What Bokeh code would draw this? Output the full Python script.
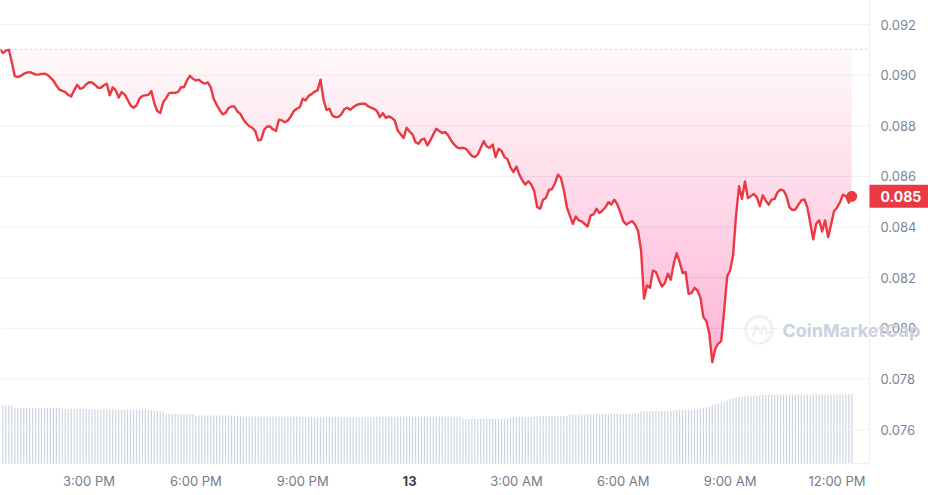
import numpy as np
from bokeh.plotting import figure
from bokeh.models import Range1d, Label, BoxAnnotation, PolyAnnotation
from bokeh.core.properties import value
from bokeh.embed import file_html
from bokeh.resources import INLINE

# ---- data: price every 5 minutes from 12:30 PM (12th) to 12:25 PM (13th) ----
prices = [
    0.09102, 0.09087, 0.09097, 0.09100, 0.09051, 0.08996, 0.08992, 0.08997, 0.09005, 0.09010, 0.09012, 0.09008,
    0.09002, 0.09002, 0.09005, 0.09006, 0.09001, 0.08990, 0.08978, 0.08959, 0.08943, 0.08938, 0.08933, 0.08922,
    0.08916, 0.08940, 0.08962, 0.08946, 0.08950, 0.08963, 0.08972, 0.08971, 0.08962, 0.08950, 0.08950, 0.08960,
    0.08966, 0.08920, 0.08952, 0.08940, 0.08911, 0.08933, 0.08924, 0.08903, 0.08880, 0.08871, 0.08880, 0.08907,
    0.08918, 0.08920, 0.08922, 0.08937, 0.08889, 0.08858, 0.08850, 0.08893, 0.08909, 0.08929, 0.08931, 0.08930,
    0.08934, 0.08952, 0.08952, 0.08979, 0.08997, 0.08986, 0.08979, 0.08982, 0.08972, 0.08966, 0.08971, 0.08952,
    0.08907, 0.08883, 0.08863, 0.08845, 0.08851, 0.08870, 0.08876, 0.08876, 0.08856, 0.08847, 0.08825, 0.08810,
    0.08798, 0.08792, 0.08779, 0.08742, 0.08745, 0.08784, 0.08797, 0.08797, 0.08786, 0.08779, 0.08824, 0.08821,
    0.08814, 0.08821, 0.08837, 0.08858, 0.08867, 0.08873, 0.08907, 0.08900, 0.08918, 0.08925, 0.08935, 0.08940,
    0.08982, 0.08904, 0.08863, 0.08867, 0.08840, 0.08834, 0.08835, 0.08845, 0.08865, 0.08871, 0.08863, 0.08873,
    0.08881, 0.08885, 0.08887, 0.08887, 0.08877, 0.08872, 0.08867, 0.08858, 0.08834, 0.08850, 0.08831, 0.08837,
    0.08831, 0.08821, 0.08781, 0.08766, 0.08752, 0.08792, 0.08777, 0.08766, 0.08735, 0.08729, 0.08745, 0.08749,
    0.08722, 0.08742, 0.08766, 0.08788, 0.08779, 0.08771, 0.08775, 0.08762, 0.08742, 0.08726, 0.08715, 0.08711,
    0.08713, 0.08709, 0.08694, 0.08681, 0.08676, 0.08687, 0.08713, 0.08739, 0.08718, 0.08713, 0.08726, 0.08676,
    0.08709, 0.08700, 0.08676, 0.08667, 0.08636, 0.08617, 0.08639, 0.08607, 0.08584, 0.08568, 0.08581, 0.08568,
    0.08542, 0.08478, 0.08472, 0.08508, 0.08516, 0.08547, 0.08550, 0.08573, 0.08607, 0.08594, 0.08544, 0.08478,
    0.08445, 0.08412, 0.08442, 0.08426, 0.08422, 0.08412, 0.08402, 0.08446, 0.08450, 0.08472, 0.08455, 0.08465,
    0.08478, 0.08498, 0.08489, 0.08508, 0.08489, 0.08459, 0.08423, 0.08410, 0.08417, 0.08423, 0.08409, 0.08384,
    0.08307, 0.08117, 0.08169, 0.08160, 0.08228, 0.08222, 0.08192, 0.08165, 0.08178, 0.08215, 0.08192, 0.08255,
    0.08297, 0.08261, 0.08218, 0.08222, 0.08136, 0.08139, 0.08160, 0.08149, 0.08120, 0.08044, 0.08028, 0.07978,
    0.07866, 0.07919, 0.07939, 0.07949, 0.08070, 0.08205, 0.08228, 0.08288, 0.08446, 0.08561, 0.08511, 0.08580,
    0.08514, 0.08522, 0.08530, 0.08518, 0.08482, 0.08525, 0.08504, 0.08488, 0.08508, 0.08511, 0.08538, 0.08548,
    0.08544, 0.08522, 0.08478, 0.08467, 0.08469, 0.08488, 0.08505, 0.08509, 0.08478, 0.08417, 0.08351, 0.08413,
    0.08426, 0.08382, 0.08426, 0.08360, 0.08409, 0.08462, 0.08476, 0.08498, 0.08527, 0.08522, 0.08496, 0.08521,
]

# rolling 24h volume (millions USD), same timestamps
volumes = [
    5.80, 5.80, 5.79, 5.80, 5.78, 5.58, 5.57, 5.57, 5.56, 5.57, 5.57, 5.56,
    5.57, 5.56, 5.57, 5.56, 5.57, 5.55, 5.56, 5.56, 5.55, 5.47, 5.47, 5.46,
    5.47, 5.47, 5.46, 5.47, 5.46, 5.46, 5.45, 5.40, 5.40, 5.41, 5.40, 5.40,
    5.40, 5.39, 5.40, 5.40, 5.40, 5.39, 5.40, 5.40, 5.39, 5.40, 5.40, 5.39,
    5.39, 5.38, 5.36, 5.30, 5.26, 5.24, 5.23, 5.23, 5.00, 4.97, 4.98, 4.97,
    4.97, 4.96, 4.97, 4.97, 4.96, 4.95, 4.81, 4.80, 4.80, 4.81, 4.80, 4.80,
    4.80, 4.79, 4.80, 4.80, 4.79, 4.80, 4.80, 4.79, 4.78, 4.71, 4.70, 4.70,
    4.70, 4.70, 4.69, 4.70, 4.70, 4.70, 4.69, 4.70, 4.70, 4.69, 4.70, 4.70,
    4.70, 4.69, 4.70, 4.70, 4.69, 4.70, 4.68, 4.64, 4.63, 4.63, 4.63, 4.62,
    4.63, 4.63, 4.62, 4.63, 4.63, 4.63, 4.62, 4.63, 4.63, 4.63, 4.62, 4.63,
    4.63, 4.63, 4.62, 4.63, 4.63, 4.63, 4.64, 4.65, 4.70, 4.70, 4.70, 4.69,
    4.70, 4.70, 4.70, 4.69, 4.70, 4.70, 4.70, 4.70, 4.71, 4.70, 4.70, 4.70,
    4.70, 4.70, 4.71, 4.70, 4.70, 4.70, 4.69, 4.70, 4.70, 4.70, 4.70, 4.68,
    4.47, 4.47, 4.46, 4.47, 4.47, 4.46, 4.47, 4.47, 4.47, 4.46, 4.47, 4.47,
    4.47, 4.47, 4.48, 4.50, 4.63, 4.63, 4.63, 4.64, 4.63, 4.63, 4.64, 4.65,
    4.73, 4.73, 4.73, 4.74, 4.73, 4.73, 4.74, 4.73, 4.74, 4.74, 4.75, 4.76,
    4.90, 4.90, 4.90, 4.91, 4.90, 4.90, 4.91, 4.90, 4.91, 4.92, 4.93, 4.95,
    4.97, 4.97, 4.97, 4.98, 4.97, 4.97, 4.98, 4.97, 4.98, 4.98, 4.99, 5.05,
    5.20, 5.23, 5.23, 5.23, 5.24, 5.23, 5.23, 5.24, 5.24, 5.23, 5.25, 5.30,
    5.37, 5.37, 5.37, 5.38, 5.38, 5.37, 5.40, 5.45, 5.50, 5.55, 5.60, 5.70,
    5.80, 5.90, 6.00, 6.10, 6.20, 6.30, 6.47, 6.55, 6.60, 6.65, 6.70, 6.75,
    6.80, 6.80, 6.81, 6.80, 6.82, 6.85, 6.88, 6.88, 6.90, 6.89, 6.90, 6.90,
    6.88, 6.90, 6.90, 6.91, 6.89, 6.90, 6.90, 6.90, 6.91, 6.90, 6.89, 6.90,
    6.90, 6.91, 6.90, 6.90, 6.91, 6.92, 6.92, 6.91, 6.93, 6.93, 6.94, 6.95,
]

start_hour = 12.5          # 12:30 PM on the 12th, hours since midnight of the 12th
step_hours = 5 / 60        # 5-minute samples
times = [start_hour + i * step_hours for i in range(len(prices))]

x_ticks = [15, 18, 21, 27, 30, 33, 36]
x_tick_labels = ["3:00 PM", "6:00 PM", "9:00 PM", "3:00 AM", "6:00 AM", "9:00 AM", "12:00 PM"]
day_tick = 24
day_label = "13"
y_ticks = [0.076, 0.078, 0.080, 0.082, 0.084, 0.086, 0.088, 0.090, 0.092]

# ---- style ----
RED = "#ea3943"
FILL = "#ec3b40"
YLABEL = "#7c8597"
XLABEL = "#727b8e"
GRID = "#eff1f4"
EDGE = "#eceff3"
WM = "#cbd2de"
FONT = "Inter"

# ---- canvas geometry (page pixels -> data) ----
W, H = 928, 495
PX_PER_HOUR = 35.617
PX_PER_UNIT = 25312.5          # pixels per 1.0 of price
X0 = 12.515                    # hour at the left edge


def hx(px):
    return X0 + px / PX_PER_HOUR


def vy(py):
    return 0.092 - (py - 24) / PX_PER_UNIT


CHART_RIGHT = hx(869)          # right edge of the chart area
CHART_BOTTOM = vy(463)         # bottom edge of the chart area

p = figure(width=W, height=H, output_backend="svg", toolbar_location=None,
           x_range=Range1d(hx(0), hx(W)), y_range=Range1d(vy(H), vy(0)),
           x_axis_type=None, y_axis_type=None,
           min_border_left=0, min_border_top=0, min_border_right=0, min_border_bottom=0)
p.outline_line_color = None
p.background_fill_color = "white"
p.border_fill_color = "white"
p.xgrid.visible = False
p.ygrid.visible = False

# volume axis: zero at the chart bottom, 10 px per million
p.extra_y_ranges = {"vol": Range1d(-(H - 463) / 10, 463 / 10)}
p.vbar(x=times, top=volumes, width=0.034, bottom=0, y_range_name="vol",
       fill_color="#cdd4e1", line_color=None)

# horizontal grid lines (chart area only)
n = len(y_ticks)
p.segment(x0=[hx(0)] * n, x1=[CHART_RIGHT] * n, y0=y_ticks, y1=y_ticks,
          line_color=GRID, line_width=1)

# chart edges (right and bottom)
p.segment(x0=[CHART_RIGHT, hx(0)], x1=[CHART_RIGHT, CHART_RIGHT],
          y0=[vy(0), CHART_BOTTOM], y1=[CHART_BOTTOM, CHART_BOTTOM],
          line_color=EDGE, line_width=1)

# gradient-like fill between price and opening price
pr = np.array(prices)
base = prices[0]
levels = np.linspace(base, pr.min(), 36)
for k, L in enumerate(levels):
    a = 0.03 if k == 0 else 0.0062
    p.varea(x=times, y1=np.minimum(pr, L), y2=L, fill_color=FILL, fill_alpha=a)

# opening price dotted line
p.segment(x0=[hx(0)], x1=[CHART_RIGHT], y0=[base], y1=[base],
          line_color="#959dab", line_dash="1 4", line_width=1)

# price line and last point
p.line(times, prices, line_color=RED, line_width=2.4, line_join="round")
p.scatter([times[-1]], [prices[-1]], size=10, color=RED)

# watermark
p.add_layout(BoxAnnotation(left=745, right=772, bottom=H - 343, top=H - 316,
                           left_units="screen", right_units="screen",
                           top_units="screen", bottom_units="screen",
                           fill_alpha=0, line_color=WM, line_width=3, border_radius=14))
wx = [752.5, 756, 760.5, 763.5, 767, 770.5]
wy = [H - 336, H - 325, H - 333, H - 325, H - 334, H - 330]
p.add_layout(PolyAnnotation(xs=wx + wx[::-1], ys=wy + wy[::-1], xs_units="screen", ys_units="screen",
                            fill_alpha=0, line_color=WM, line_width=2.5))
p.add_layout(Label(x=782, y=H - 330, x_units="screen", y_units="screen", text="CoinMarketCap",
                   text_align="left", text_baseline="middle", text_font=FONT,
                   text_font_size="18px", text_font_style="bold", text_color=WM))

# price scale labels (right)
p.text(x=[hx(880)] * n, y=y_ticks, text=[f"{v:.3f}" for v in y_ticks],
       text_font=value(FONT), text_font_size="13px", text_color=YLABEL,
       text_baseline="middle", text_align="left")

# time labels (bottom)
p.text(x=x_ticks, y=[vy(480)] * len(x_ticks), text=x_tick_labels,
       text_font=value(FONT), text_font_size="13px", text_color=XLABEL,
       text_baseline="middle", text_align="center")
p.text(x=[day_tick], y=[vy(480)], text=[day_label],
       text_font=value(FONT), text_font_size="13px", text_font_style="bold",
       text_color="#3b4150", text_baseline="middle", text_align="center")

# current price badge
p.rect(x=[hx(898.5)], y=[prices[-1]], width=59, height=23,
       width_units="screen", height_units="screen", fill_color=RED, line_color=None)
p.text(x=[hx(880)], y=[prices[-1]], text=[f"{prices[-1]:.3f}"], text_font=value(FONT),
       text_font_size="14px", text_font_style="bold", text_color="white",
       text_baseline="middle", text_align="left")

open("out.html", "w").write(file_html(p, INLINE))
